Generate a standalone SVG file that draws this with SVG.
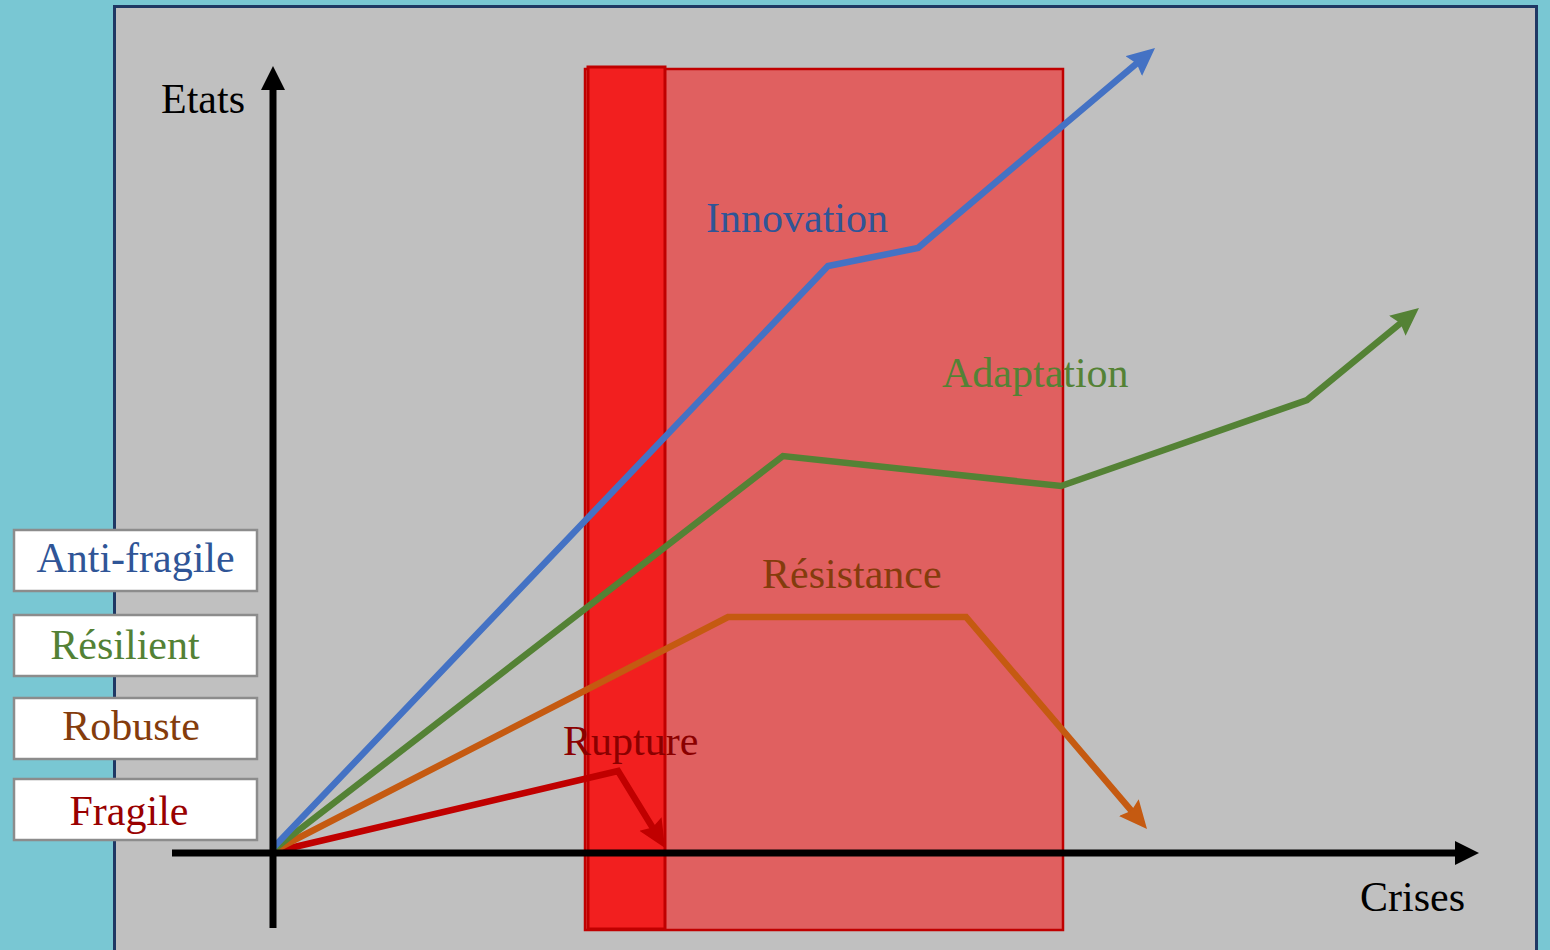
<svg xmlns="http://www.w3.org/2000/svg" width="1550" height="950" viewBox="0 0 1550 950">
<style>
text{font-family:"Liberation Serif","Times New Roman",serif;font-size:42px}
.box rect{fill:#FFFFFF;stroke:#8C8C8C;stroke-width:2.5}
.ln{fill:none;stroke-width:6.5;stroke-linejoin:miter}
.ax{fill:none;stroke:#000;stroke-width:7}
</style>
<defs>
<marker id="mBlue" markerUnits="userSpaceOnUse" markerWidth="30" markerHeight="28" refX="12" refY="13" orient="auto"><path d="M0,0 L28,13 L0,26 L4,13 z" fill="#4472C4"/></marker>
<marker id="mGreen" markerUnits="userSpaceOnUse" markerWidth="30" markerHeight="28" refX="12" refY="13" orient="auto"><path d="M0,0 L28,13 L0,26 L4,13 z" fill="#548235"/></marker>
<marker id="mOrange" markerUnits="userSpaceOnUse" markerWidth="30" markerHeight="28" refX="12" refY="13" orient="auto"><path d="M0,0 L28,13 L0,26 L4,13 z" fill="#C55A11"/></marker>
<marker id="mRed" markerUnits="userSpaceOnUse" markerWidth="30" markerHeight="28" refX="12" refY="13" orient="auto"><path d="M0,0 L28,13 L0,26 L4,13 z" fill="#C00000"/></marker>
<marker id="mBlack" markerUnits="userSpaceOnUse" markerWidth="26" markerHeight="26" refX="6" refY="12" orient="auto"><path d="M0,0 L24,12 L0,24 z" fill="#000"/></marker>
</defs>
<rect x="0" y="0" width="1550" height="950" fill="#79C7D3"/>
<rect x="114.5" y="6.5" width="1422" height="950" fill="#C0C0C0" stroke="#1F3864" stroke-width="3"/>

<g id="crisis-zone">
<rect x="585" y="69" width="478" height="861" fill="#E06060" stroke="#C00000" stroke-width="2.5"/>
<rect x="588" y="67" width="77" height="862" fill="#F21F1F" stroke="#C00000" stroke-width="3"/>
</g>

<g id="connectors">
<polyline id="c-fragile" class="ln" stroke="#C00000" points="273,852 618,771 656.7,834.3" marker-end="url(#mRed)"/>
<polyline id="c-robuste" class="ln" stroke="#C55A11" points="273,851 728,617 966,617 1136.6,816.8" marker-end="url(#mOrange)"/>
<polyline id="c-resilient" class="ln" stroke="#548235" points="273,850 783,456 1061,486 1307,400 1406.6,318.2" marker-end="url(#mGreen)"/>
<polyline id="c-antifragile" class="ln" stroke="#4472C4" points="273,848 828,266 918,248 1142.8,58.3" marker-end="url(#mBlue)"/>
<line id="x-axis" class="ax" x1="172" y1="853" x2="1461" y2="853" marker-end="url(#mBlack)"/>
<line id="y-axis" class="ax" x1="273" y1="928" x2="273" y2="84" marker-end="url(#mBlack)"/>
</g>

<g id="labels">
<text x="161" y="113" fill="#000">Etats</text>
<text x="1360" y="911" fill="#000">Crises</text>
<text x="706" y="232" fill="#2F5597">Innovation</text>
<text x="942" y="387" fill="#548235">Adaptation</text>
<text x="762" y="588" fill="#843C0C">Résistance</text>
<text x="563" y="755" fill="#8B0000">Rupture</text>
</g>

<g id="box-antifragile" class="box"><rect x="14" y="530" width="243" height="61"/><text x="135.5" y="572" text-anchor="middle" fill="#2F5597">Anti-fragile</text></g>
<g id="box-resilient" class="box"><rect x="14" y="615" width="243" height="61"/><text x="125" y="659" text-anchor="middle" fill="#538135">Résilient</text></g>
<g id="box-robuste" class="box"><rect x="14" y="698" width="243" height="61"/><text x="131" y="740" text-anchor="middle" fill="#843C0C">Robuste</text></g>
<g id="box-fragile" class="box"><rect x="14" y="779" width="243" height="61"/><text x="129" y="825" text-anchor="middle" fill="#990000">Fragile</text></g>
</svg>
